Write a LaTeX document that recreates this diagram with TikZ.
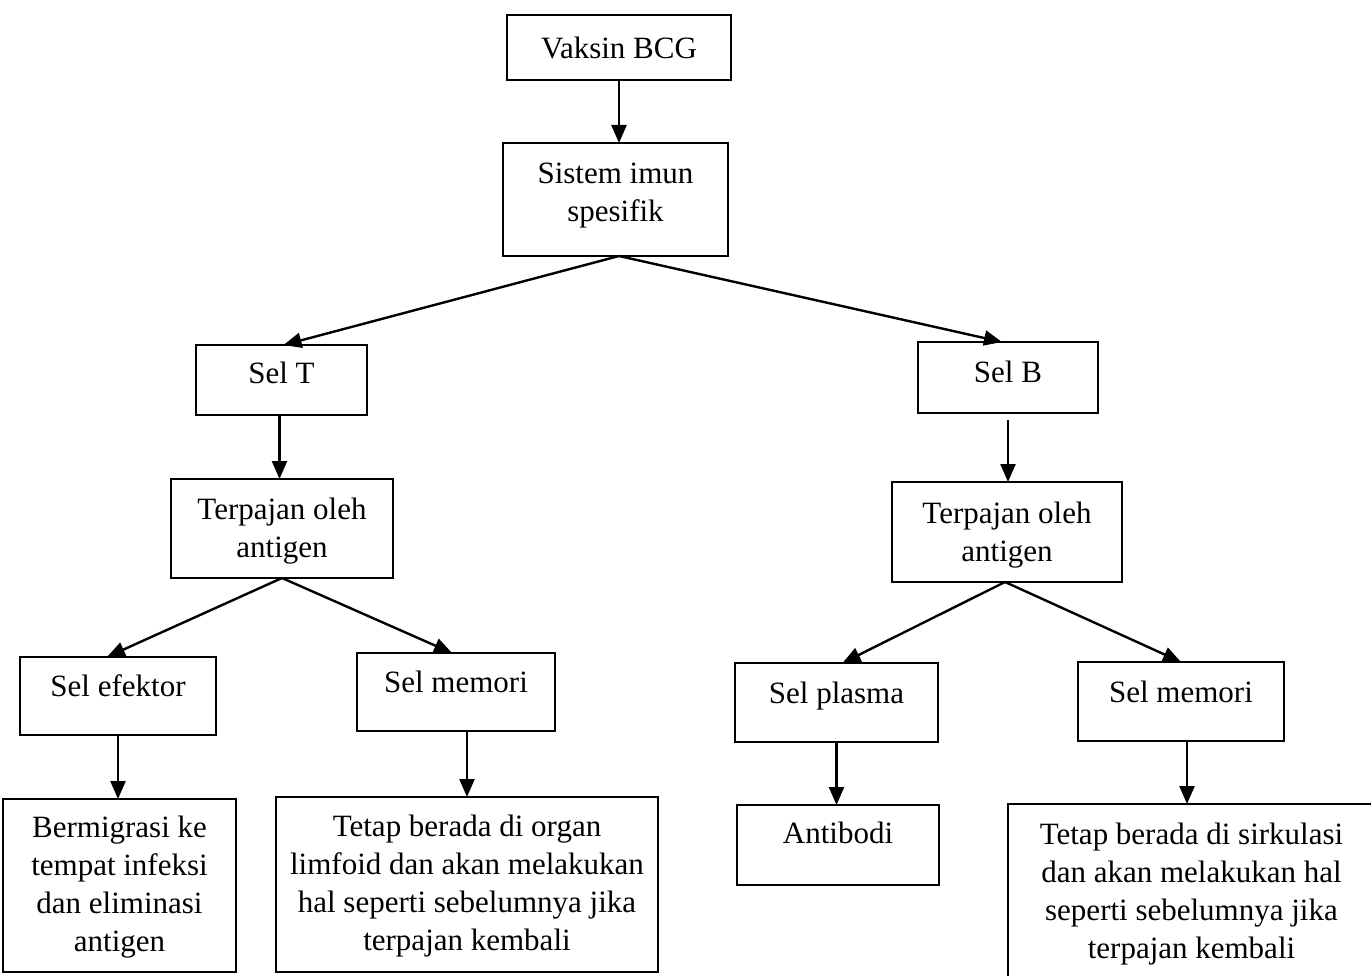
\documentclass[tikz,border=0pt]{standalone}
\usepackage{fontspec}
\setmainfont{Liberation Serif}
\usetikzlibrary{arrows.meta}
\begin{document}
\begin{tikzpicture}[x=1pt,y=-1pt,
  box/.style={draw, line width=2.6pt, inner sep=0pt, outer sep=0pt},
  txt/.style={font=\fontsize{31}{38}\selectfont, align=center, inner sep=0pt},
  arr/.style={line width=2.4pt, -{Triangle[length=18pt,width=15pt]}}]
\useasboundingbox (0,0) rectangle (1371,976);

\node[box, minimum width=224pt, minimum height=65pt, label={[txt]center:{Vaksin BCG}}] (vaksin) at (619,47.5) {};
\node[box, minimum width=225pt, minimum height=113pt, label={[txt, yshift=4pt]center:{Sistem imun\\spesifik}}] (sistem) at (615.5,199.5) {};
\node[box, minimum width=171pt, minimum height=70pt, label={[txt, yshift=7pt]center:{Sel T}}] (selT) at (281.5,380) {};
\node[box, minimum width=180pt, minimum height=71pt, label={[txt, yshift=6pt]center:{Sel B}}] (selB) at (1008,377.5) {};
\node[box, minimum width=222pt, minimum height=99pt, label={[txt, yshift=-3pt]center:{Terpajan oleh\\antigen}}] (terpL) at (282,528.5) {};
\node[box, minimum width=230pt, minimum height=100pt, label={[txt, yshift=-3pt]center:{Terpajan oleh\\antigen}}] (terpR) at (1007,532) {};
\node[box, minimum width=196pt, minimum height=78pt, label={[txt, yshift=10pt]center:{Sel efektor}}] (efektor) at (118,696) {};
\node[box, minimum width=198pt, minimum height=78pt, label={[txt, yshift=10pt]center:{Sel memori}}] (memoriL) at (456,692) {};
\node[box, minimum width=203pt, minimum height=79pt, label={[txt, yshift=6pt]center:{Sel plasma}}] (plasma) at (836.5,702.5) {};
\node[box, minimum width=206pt, minimum height=79pt, label={[txt, yshift=10pt]center:{Sel memori}}] (memoriR) at (1181,701.5) {};
\node[box, minimum width=233pt, minimum height=173pt, label={[txt, yshift=-2pt]center:{Bermigrasi ke\\tempat infeksi\\dan eliminasi\\antigen}}] (bermigrasi) at (119.5,885.5) {};
\node[box, minimum width=382pt, minimum height=175pt, label={[txt, yshift=-2pt]center:{Tetap berada di organ\\limfoid dan akan melakukan\\hal seperti sebelumnya jika\\terpajan kembali}}] (tetapL) at (467,884.5) {};
\node[box, minimum width=202pt, minimum height=80pt, label={[txt, yshift=12pt]center:{Antibodi}}] (antibodi) at (838,845) {};
\node[box, minimum width=367pt, minimum height=176pt, label={[txt, yshift=-2pt]center:{Tetap berada di sirkulasi\\dan akan melakukan hal\\seperti sebelumnya jika\\terpajan kembali}}] (tetapR) at (1191.5,892) {};

\draw[arr] (vaksin.south) -- (vaksin.south |- sistem.north);
\draw[arr] (vaksin.south |- sistem.south) -- ([xshift=2pt]selT.north);
\draw[arr] (vaksin.south |- sistem.south) -- ([xshift=-6pt]selB.north);
\draw[arr] ([xshift=-2pt]selT.south) -- ([xshift=-2pt]selT.south |- terpL.north);
\draw[arr] ([yshift=-7pt]selB.south) -- (selB.south |- terpR.north);
\draw[arr] (terpL.south) -- ([xshift=-11pt]efektor.north);
\draw[arr] (terpL.south) -- ([xshift=-4pt]memoriL.north);
\draw[arr] ([xshift=-2pt]terpR.south) -- ([xshift=6pt]plasma.north);
\draw[arr] ([xshift=-2pt]terpR.south) -- (memoriR.north);
\draw[arr] (efektor.south) -- (efektor.south |- bermigrasi.north);
\draw[arr] (tetapL.north |- memoriL.south) -- (tetapL.north);
\draw[arr] (plasma.south) -- (plasma.south |- antibodi.north);
\draw[arr] ([xshift=6pt]memoriR.south) -- ([xshift=6pt]memoriR.south |- tetapR.north);
\end{tikzpicture}
\end{document}
